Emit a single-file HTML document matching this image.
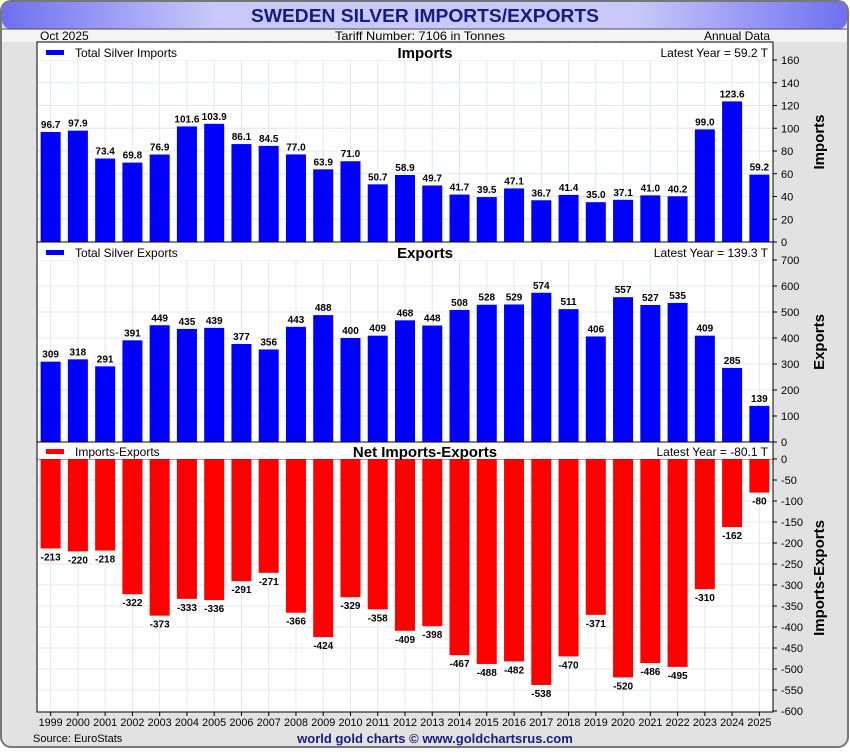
<!DOCTYPE html>
<html><head><meta charset="utf-8"><style>
body{margin:0;width:850px;height:750px;overflow:hidden;background:#fff;font-family:"Liberation Sans",sans-serif}
</style></head><body>
<svg id="c" width="850" height="750" xmlns="http://www.w3.org/2000/svg">
<defs>
<linearGradient id="tg" x1="0" x2="1"><stop offset="0" stop-color="#6f6ff0"/><stop offset="0.25" stop-color="#c8c8fa"/><stop offset="0.75" stop-color="#c8c8fa"/><stop offset="1" stop-color="#6f6ff0"/></linearGradient>
</defs>
<rect x="1" y="1" width="847" height="746" rx="10" fill="#e2e2e2" stroke="#777" stroke-width="2"/>
<rect x="2" y="2" width="845" height="27" rx="9" fill="url(#tg)"/>
<line x1="2" y1="29" x2="847" y2="29" stroke="#555"/>
<rect x="2" y="30" width="845" height="12" fill="#f4f4f4"/>
<text x="425" y="22" text-anchor="middle" font-size="18" font-weight="bold" fill="#1a1a80" textLength="348" lengthAdjust="spacingAndGlyphs">SWEDEN SILVER IMPORTS/EXPORTS</text>
<text x="40" y="40" font-size="12">Oct  2025</text>
<text x="420" y="40" text-anchor="middle" font-size="12" textLength="170" lengthAdjust="spacingAndGlyphs">Tariff Number: 7106 in Tonnes</text>
<text x="770" y="40" text-anchor="end" font-size="12">Annual Data</text>
<rect x="37" y="42" width="736" height="670" fill="#fff"/>
<g id="grid"></g><g id="bars"></g>
<rect x="37" y="42" width="736" height="670" fill="none" stroke="#000"/>
<line x1="37" y1="242" x2="773" y2="242" stroke="#000"/>
<line x1="37" y1="442" x2="773" y2="442" stroke="#000"/>
<line x1="37" y1="459" x2="773" y2="459" stroke="#c00"/>
<g id="labels"></g>
<text x="33" y="742" font-size="11">Source: EuroStats</text>
<text x="435" y="743" text-anchor="middle" font-size="13" font-weight="bold" fill="#1a1a80">world gold charts © www.goldchartsrus.com</text>
</svg>
<script>
const years=[1999,2000,2001,2002,2003,2004,2005,2006,2007,2008,2009,2010,2011,2012,2013,2014,2015,2016,2017,2018,2019,2020,2021,2022,2023,2024,2025];
const imports=[96.7,97.9,73.4,69.8,76.9,101.6,103.9,86.1,84.5,77.0,63.9,71.0,50.7,58.9,49.7,41.7,39.5,47.1,36.7,41.4,35.0,37.1,41.0,40.2,99.0,123.6,59.2];
const exportsV=[309,318,291,391,449,435,439,377,356,443,488,400,409,468,448,508,528,529,574,511,406,557,527,535,409,285,139];
const net=[-213,-220,-218,-322,-373,-333,-336,-291,-271,-366,-424,-329,-358,-409,-398,-467,-488,-482,-538,-470,-371,-520,-486,-495,-310,-162,-80];
const impTicks=[0,20,40,60,80,100,120,140,160];
const expTicks=[0,100,200,300,400,500,600,700];
const netTicks=[0,-50,-100,-150,-200,-250,-300,-350,-400,-450,-500,-550,-600];
const NS="http://www.w3.org/2000/svg";
const L=37,R=773,step=(R-L)/years.length,bw=20;
const xC=i=>L+step*(i+0.5);
const yImp=v=>242-v*182/160, yExp=v=>442-v*182/700, yNet=v=>459-v*252/600;
function mk(t,a,p){const e=document.createElementNS(NS,t);for(const k in a)e.setAttribute(k,a[k]);(p||document.getElementById('c')).appendChild(e);return e;}
const G=document.getElementById('grid'),B=document.getElementById('bars'),LB=document.getElementById('labels');
function txt(x,y,s,a,p){const e=mk('text',Object.assign({x:x,y:y},a),p);e.textContent=s;return e;}
years.forEach((yr,i)=>{
  const gl=mk('line',{x1:xC(i),x2:xC(i),y1:42,y2:712,stroke:'#dde8f3'},G);
  
  
  mk('line',{x1:xC(i),x2:xC(i),y1:712,y2:716,stroke:'#000'});
  const t=txt(xC(i),726,yr,{'text-anchor':'middle','font-size':11,textLength:24,lengthAdjust:'spacingAndGlyphs'});
  
  
});
function ticks(arr,fy,lo,hi,name){arr.forEach(v=>{const y=fy(v);
  if(y>lo+1&&y<hi-1){const g=mk('line',{x1:L,x2:R,y1:y,y2:y,stroke:'#dde8f3'},G);}
  mk('line',{x1:R,x2:R+4,y1:y,y2:y,stroke:'#000'});
  const t=txt(R+8,y+4,v,{'font-size':11});
  
  });}
ticks(impTicks,yImp,42,242,'imports-y-tick');
ticks(expTicks,yExp,242,442,'exports-y-tick');
ticks(netTicks,yNet,442,712,'net-y-tick');
function bars(vals,fy,y0,color,name,fmt,neg){vals.forEach((v,i)=>{const y=fy(v);
  const r=mk('rect',{x:xC(i)-bw/2,y:Math.min(y,y0),width:bw,height:Math.abs(y0-y),fill:color},B);
  
  
  const t=txt(xC(i),neg?y+12:y-4,fmt(v),{'text-anchor':'middle','font-size':10,'font-weight':'bold'},LB);
  
  });}
bars(imports,yImp,242,'#0000ff','imports',v=>v.toFixed(1),false);
bars(exportsV,yExp,442,'#0000ff','exports',v=>String(v),false);
bars(net,yNet,459,'#ff0000','net',v=>String(v),true);
function header(y,color,leg,title,latest,nm){
  mk('rect',{x:38,y:y,width:734,height:16,fill:'#fff'},LB);
  mk('rect',{x:46,y:y+6,width:18,height:5,fill:color},LB);
  const a=txt(75,y+13,leg,{'font-size':12},LB);
  const b=txt(425,y+14,title,{'text-anchor':'middle','font-size':15,'font-weight':'bold'},LB);
  const c=txt(768,y+13,latest,{'text-anchor':'end','font-size':12},LB);}
header(44,'#0000ff','Total Silver Imports','Imports','Latest Year = 59.2 T','imports');
header(244,'#0000ff','Total Silver Exports','Exports','Latest Year = 139.3 T','exports');
header(443,'#ff0000','Imports-Exports','Net Imports-Exports','Latest Year = -80.1 T','net');
function ytitle(y,s,nm){const t=txt(0,0,s,{'font-size':15,'font-weight':'bold','text-anchor':'middle',transform:`translate(824,${y}) rotate(-90)`});}
ytitle(142,'Imports','imports-y-axis-title');
ytitle(342,'Exports','exports-y-axis-title');
ytitle(578,'Imports-Exports','net-y-axis-title');
</script>
</body></html>
